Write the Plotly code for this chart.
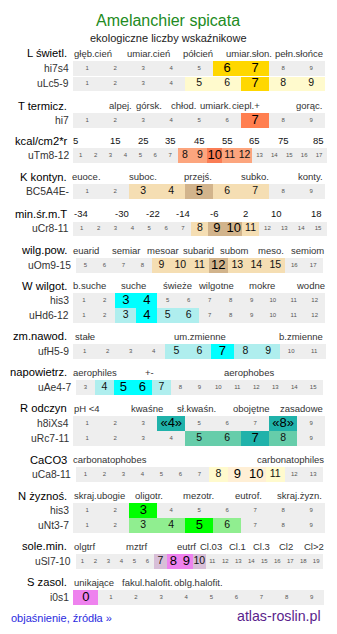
import plotly.graph_objects as go

W, H = 337, 634
FONT = "Liberation Sans, Arial, sans-serif"

# ---------------- data ----------------
title = "Amelanchier spicata"
subtitle = "ekologiczne liczby wskaźnikowe"

section_names = ["L świetl.", "T termicz.", "kcal/cm2*r", "K kontyn.", "min.śr.m.T",
                 "wilg.pow.", "W wilgot.", "zm.nawod.", "napowietrz.", "R odczyn",
                 "CaCO3", "N żyznoś.", "sole.min.", "S zasol."]

section_scale_labels = [
    ["głęb.cień", "umiar.cień", "półcień", "umiar.słon.", "pełn.słońce"],
    ["alpej.", "górsk.", "chłod.", "umiark.", "ciepl.+", "gorąc."],
    ["5", "15", "25", "35", "45", "55", "65", "75", "85"],
    ["euoce.", "suboc.", "przejś.", "subko.", "konty."],
    ["-34", "-30", "-22", "-14", "-6", "2", "10", "18"],
    ["euarid", "semiar", "mesoar", "subarid", "subom", "meso.", "semiom"],
    ["b.suche", "suche", "świeże", "wilgotne", "mokre", "wodne"],
    ["stałe", "um.zmienne", "b.zmienne"],
    ["aerophiles", "+-", "aerophobes"],
    ["pH <4", "kwaśne", "sł.kwaśn.", "obojętne", "zasadowe"],
    ["carbonatophobes", "carbonatophiles"],
    ["skraj.ubogie", "oligotr.", "mezotr.", "eutrof.", "skraj.żyzn."],
    ["olgtrf", "mztrf", "eutrf", "Cl.03", "Cl.1", "Cl.3", "Cl2", "Cl>2"],
    ["unikające", "fakul.halofit.", "oblg.halofit."],
]

row_section = [0, 0, 1, 2, 3, 4, 5, 6, 6, 7, 8, 9, 9, 10, 11, 11, 12, 13]
row_codes = ["hi7s4", "uLc5-9", "hi7", "uTm8-12", "BC5A4E-", "uCr8-11", "uOm9-15",
             "his3", "uHd6-12", "ufH5-9", "uAe4-7", "h8iXs4", "uRc7-11", "uCa8-11",
             "his3", "uNt3-7", "uSl7-10", "i0s1"]
row_first = [1, 1, 1, 1, 1, 1, 5, 1, 1, 1, 3, 1, 1, 1, 1, 1, 1, 0]
row_last = [9, 9, 9, 17, 9, 15, 17, 12, 12, 11, 15, 9, 9, 13, 9, 9, 19, 9]
row_strong = [[6, 7], [7], [7], [10], [5], [9, 10], [12], [3, 4], [4], [7], [5, 6],
              [4, 8], [7], [9, 10], [3], [5], [8, 9], [0]]
row_light = [[], [5, 6, 8, 9], [], [8, 9, 11, 12], [3, 4, 6, 7], [8, 11],
             [9, 10, 11, 13, 14, 15], [], [3, 5, 6], [5, 6, 8, 9], [4, 7], [],
             [5, 6, 8], [8, 11], [], [3, 4, 6], [7, 10], []]
row_bracketed = [False] * 11 + [True] + [False] * 6

# ---------------- styles & layout ----------------
section_strong_color = ["#FFD700", "#FF7F50", "#FA7D55", "#D2B48C", "#D2B48C", "#D2B48C",
                        "#00FFFF", "#00FFFF", "#00FFFF", "#20B2AA", "#FFEFD5",
                        "#00FF00", "#EE82EE", "#EE82EE"]
section_light_color = ["#FFFACD", "#FFA07A", "#FCA57E", "#F5DEB3", "#F5DEB3", "#F5DEB3",
                       "#AFEEEE", "#AFEEEE", "#AFEEEE", "#66CDAA", "#FFFACD",
                       "#90EE90", "#D8BFD8", "#D8BFD8"]
GREY = "#EEEEEE"

section_scale_x = [
    [92.5, 148.3, 198.3, 249, 299],
    [120.5, 149.3, 183.8, 215, 245.8, 308.8],
    [75.8, 115, 143.3, 170.8, 199.2, 227, 254.7, 283, 318.7],
    [86.7, 143, 198, 254.5, 310.5],
    [81.2, 121.7, 152.5, 183.3, 213.8, 245.2, 276, 316.7],
    [85.5, 126.3, 162.5, 198.8, 234.7, 270.5, 307.2],
    [89.3, 133, 177.7, 215.5, 261.7, 310],
    [85, 199.5, 301],
    [94.8, 149.2, 248.7],
    [86.5, 147.2, 196.3, 250.8, 301.8],
    [110, 290.3],
    [99, 148.7, 198.5, 248.3, 299.5],
    [84.5, 136.3, 186.7, 211.2, 237, 261.7, 286.3, 313.8],
    [93.7, 147.8, 198.2],
]

row_top = [61, 76.6, 113.3, 148.3, 184.3, 221.6, 258.2, 293.3, 308.4, 344, 380,
           416, 431.2, 467.3, 503.3, 518.4, 554, 590]
ROW_H = 14.5
row_x0 = [73.3, 73.3, 73.3, 73.3, 73.3, 73.3, 76, 73.3, 73.3, 73.3, 76, 73.3, 73.3,
          76, 73.3, 73.3, 76, 73.3]
row_x1 = [325.2, 325.2, 325.2, 326.5, 325.2, 326.5, 322.7, 325.2, 325.2, 325.6, 322.7,
          325.2, 325.2, 322.7, 325.2, 325.2, 322.7, 324.2]

# ---------------- build cells ----------------
bar_y, bar_base, bar_w, bar_col = [], [], [], []
txt_x, txt_y, txt_s, txt_size, txt_col = [], [], [], [], []

for r, code in enumerate(row_codes):
    sec = row_section[r]
    n = row_last[r] - row_first[r] + 1
    cw = (row_x1[r] - row_x0[r]) / n
    yc = row_top[r] + ROW_H / 2
    for k in range(n):
        v = row_first[r] + k
        x0 = row_x0[r] + k * cw
        if v in row_strong[r]:
            col, size, tcol = section_strong_color[sec], 13, "#000000"
        elif v in row_light[r]:
            col, size, tcol = section_light_color[sec], 10.5, "#111111"
        else:
            col, size, tcol = GREY, 6, "#555555"
        bar_y.append(yc)
        bar_base.append(x0)
        bar_w.append(cw + 0.05)
        bar_col.append(col)
        label = str(v)
        if row_bracketed[r] and v in row_strong[r]:
            label = "«" + label + "»"
        txt_x.append(x0 + cw / 2)
        txt_y.append(yc)
        txt_s.append(label)
        txt_size.append(size)
        txt_col.append(tcol)

fig = go.Figure()
fig.add_trace(go.Bar(
    orientation="h", y=bar_y, x=bar_w, base=bar_base, width=ROW_H,
    marker=dict(color=bar_col, line=dict(width=0)), hoverinfo="skip",
))
fig.add_trace(go.Scatter(
    x=txt_x, y=txt_y, text=txt_s, mode="text", textposition="middle center",
    textfont=dict(family=FONT, size=txt_size, color=txt_col), hoverinfo="skip",
))

ann = []


def add_text(x, y, text, size, color, anchor="center"):
    ann.append(dict(x=x, y=y, xref="x", yref="y", text=text, showarrow=False,
                    xanchor=anchor, yanchor="middle", borderpad=0,
                    font=dict(family=FONT, size=size, color=color)))


add_text(168, 20, title, 16, "#228B22")
add_text(168, 38, subtitle, 11, "#222222")

first_row_of_section = {}
for r, sec in enumerate(row_section):
    first_row_of_section.setdefault(sec, r)

for s, name in enumerate(section_names):
    hy = row_top[first_row_of_section[s]] - 7.8
    add_text(68, hy, name, 11.2, "#000000", "right")
    for lab, lx in zip(section_scale_labels[s], section_scale_x[s]):
        col = "#111111" if s in (2, 4) else "#333333"
        add_text(lx, hy, lab, 9.5, col)

for r, code in enumerate(row_codes):
    add_text(row_x0[r] - 3.8, row_top[r] + ROW_H / 2, code, 10.3, "#333333", "right")

add_text(10, 618, "objaśnienie, źródła »", 11, "#2B2BE0", "left")
add_text(322, 616, "atlas-roslin.pl", 14.2, "#5A1E8C", "right")

fig.update_layout(
    width=W, height=H, margin=dict(l=0, r=0, t=0, b=0),
    paper_bgcolor="white", plot_bgcolor="white", showlegend=False,
    xaxis=dict(range=[0, W], visible=False, fixedrange=True),
    yaxis=dict(range=[H, 0], visible=False, fixedrange=True),
    annotations=ann, bargap=0,
)

fig.write_html("out.html", config={"displayModeBar": False})
